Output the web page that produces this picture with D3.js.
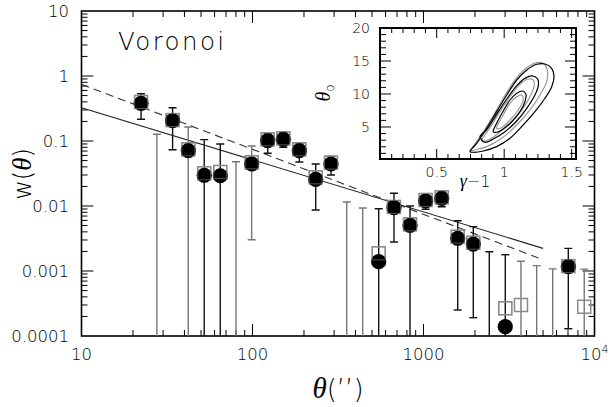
<!DOCTYPE html>
<html><head><meta charset="utf-8">
<script src="https://cdn.jsdelivr.net/npm/d3@7"></script>
<style>body{margin:0;background:#fff} svg{display:block} text{font-family:"DejaVu Sans",sans-serif;font-weight:200;fill:#000} tspan.it{font-family:"Liberation Serif",serif;font-style:italic;font-weight:400}</style>
</head><body><svg id="c" width="610" height="407"></svg>
<script>
// ---- data ----
const theta   = [22.3,27.6,34.1,42.1,52.2,64.8,80.1,98.9,122.7,151.4,187.8,234.2,287.7,355.6,441,547,672,834,1030,1278,1585,1955,2425,3008,3716,4592,5697,7028,8710];
const wCircle = [0.380,null,0.205,0.0710,0.0297,0.0292,null,0.0443,0.101,0.106,0.0710,0.0257,0.0443,null,null,0.00139,0.00942,0.00505,0.01194,0.01313,0.00319,0.00260,null,0.000139,null,null,null,0.001164,null];
const wSquare = [0.398,null,0.210,0.0745,0.0319,0.0334,null,0.047,0.106,0.110,0.0745,0.0276,0.0464,null,null,0.00187,0.00966,0.00523,0.01237,0.0136,0.00337,0.00272,null,0.000267,0.0003,null,null,0.00119,0.000282];
const errHi   = [0.534,0.127,0.325,0.164,0.105,0.090,0.048,0.0838,0.13,0.135,0.09,0.0443,0.058,0.01153,0.0093,0.00909,0.01568,0.0100,0.0155,0.0165,0.00594,0.00481,0.00198,0.00178,0.00141,0.00121,0.00108,0.00223,0.00107];
const errLo   = [0.216,null,0.0735,null,null,null,null,0.00303,0.0647,0.080,0.0475,0.00868,0.030,null,null,null,0.00279,null,0.0089,0.00976,0.000251,0.000191,null,null,null,null,null,0.000129,null];
const errSet  = ["c","s","c","s","c","c","s","s","c","c","c","c","c","s","s","c","c","c","c","c","c","c","c","c","s","s","s","c","s"];
const fitSolid  = [{t:10,w:0.325},{t:5000,w:0.00223}];
const fitDashed = [{t:10,w:0.745},{t:5000,w:0.00149}];
const xTickLabels = ["10","100","1000","10^4"];
const yTickLabels = ["10","1","0.1","0.01","0.001","0.0001"];
const panelLabel = "Voronoi";
// inset contours (gamma-1, theta0)
const cOuterBlack = [[0.747,1.26],[0.796,2.53],[0.870,4.80],[0.944,7.32],[1.019,9.85],[1.093,12.12],[1.167,13.64],[1.241,14.50],[1.302,14.55],[1.352,13.89],[1.369,12.62],[1.352,11.11],[1.302,9.35],[1.228,7.32],[1.141,5.30],[1.043,3.29],[0.944,2.02],[0.845,1.36],[0.771,1.17]];
const cOuterGray  = [[0.747,1.36],[0.796,2.77],[0.870,5.05],[0.944,7.58],[1.019,10.25],[1.093,12.47],[1.167,13.99],[1.241,14.75],[1.290,14.65],[1.319,13.64],[1.315,11.87],[1.265,9.85],[1.191,7.58],[1.093,5.30],[0.981,3.29],[0.870,2.02],[0.784,1.52]];
const cMidBlack   = [[0.821,3.54],[0.870,4.55],[0.944,6.92],[1.019,9.24],[1.093,11.26],[1.154,12.37],[1.211,12.73],[1.248,12.27],[1.253,11.26],[1.228,9.85],[1.167,7.83],[1.093,5.91],[1.006,4.29],[0.919,3.18],[0.858,2.68]];
const cMidGray    = [[0.833,2.88],[0.895,4.89],[0.969,7.32],[1.043,9.59],[1.117,11.47],[1.179,12.27],[1.216,12.12],[1.221,11.11],[1.191,9.59],[1.130,7.58],[1.043,5.56],[0.956,4.05],[0.882,3.03]];
const cInBlack    = [[0.919,4.29],[0.944,5.56],[0.993,7.42],[1.043,9.09],[1.093,10.10],[1.137,10.45],[1.161,9.95],[1.154,8.83],[1.117,7.32],[1.056,5.80],[0.993,4.70],[0.944,4.20]];
const cInGray     = [[0.944,4.80],[0.993,6.82],[1.043,8.59],[1.093,9.59],[1.130,9.85],[1.141,9.09],[1.104,7.58],[1.043,6.06],[0.981,4.89]];
const insetXTicks = [0.5,1,1.5];
const insetYTicks = [5,10,15,20];

// ---- layout ----
const svg = d3.select("#c");
const L=81.5, R=594.5, T=11, B=336;
const x = d3.scaleLog().domain([10,1e4]).range([L,R]);
const y = d3.scaleLog().domain([1e-4,10]).range([B,T]);

svg.append("defs").append("clipPath").attr("id","clip")
  .append("rect").attr("x",L).attr("y",T).attr("width",R-L).attr("height",B-T);

// ticks (all four sides, inward)
const isMajor = v => Math.abs(Math.log10(v)-Math.round(Math.log10(v)))<1e-6;
const tg = svg.append("g").attr("stroke","#000").attr("stroke-width",1);
x.ticks().forEach(v=>{
  if(v<=10||v>=1e4) return;
  const len = isMajor(v)?12:6, px=x(v);
  tg.append("line").attr("x1",px).attr("x2",px).attr("y1",B).attr("y2",B-len);
  tg.append("line").attr("x1",px).attr("x2",px).attr("y1",T).attr("y2",T+len);
});
y.ticks().forEach(v=>{
  if(v<=1e-4||v>=10) return;
  const len = isMajor(v)?12:6, py=y(v);
  tg.append("line").attr("x1",L).attr("x2",L+len).attr("y1",py).attr("y2",py);
  tg.append("line").attr("x1",R).attr("x2",R-len).attr("y1",py).attr("y2",py);
});

// frame
svg.append("rect").attr("x",L).attr("y",T).attr("width",R-L).attr("height",B-T)
  .attr("fill","none").attr("stroke","#000").attr("stroke-width",1.6);

// tick labels
const xMajor=[10,100,1000,1e4];
xMajor.forEach((v,i)=>{
  const lab = xTickLabels[i];
  const t = svg.append("text").attr("x",x(v)).attr("y",360).attr("text-anchor","middle").attr("font-size",16.5);
  if(lab.includes("^")){
    const [b,e]=lab.split("^");
    t.append("tspan").text(b);
    t.append("tspan").attr("dy",-7).attr("font-size",11).text(e);
  } else t.text(lab);
});
const yMajor=[10,1,0.1,0.01,0.001,1e-4];
yMajor.forEach((v,i)=>{
  svg.append("text").attr("x",69).attr("y",y(v)).attr("dy","0.36em").attr("text-anchor","end")
    .attr("font-size",16.5).text(yTickLabels[i]);
});

// axis titles
const xt = svg.append("text").attr("x",338).attr("y",398).attr("text-anchor","middle").attr("font-size",26);
xt.append("tspan").attr("class","it").attr("font-size",29).text("θ");
xt.append("tspan").text("(’’)");
const yt = svg.append("text").attr("transform","translate(31,174) rotate(-90)").attr("text-anchor","middle").attr("font-size",24);
yt.append("tspan").text("w(");
yt.append("tspan").attr("class","it").attr("font-size",27).text("θ");
yt.append("tspan").text(")");

// panel label
svg.append("text").attr("x",118).attr("y",50).attr("font-size",24.5).attr("letter-spacing",2.4).text(panelLabel);

// plot content
const pg = svg.append("g").attr("clip-path","url(#clip)");
const line = d3.line().x(d=>x(d.t)).y(d=>y(d.w));
pg.append("path").datum(fitSolid).attr("d",line).attr("fill","none").attr("stroke","#222").attr("stroke-width",1.1);
pg.append("path").datum(fitDashed).attr("d",line).attr("fill","none").attr("stroke","#333").attr("stroke-width",1.1).attr("stroke-dasharray","8,5");

// error bars
theta.forEach((t,i)=>{
  const col = errSet[i]==="c" ? "#111" : "#777";
  const px = x(t), yTop = y(errHi[i]), yBot = errLo[i]==null ? B+5 : y(errLo[i]);
  pg.append("line").attr("x1",px).attr("x2",px).attr("y1",yTop).attr("y2",yBot).attr("stroke",col).attr("stroke-width",1.4);
  pg.append("line").attr("x1",px-4).attr("x2",px+4).attr("y1",yTop).attr("y2",yTop).attr("stroke",col).attr("stroke-width",1.4);
  if(errLo[i]!=null)
    pg.append("line").attr("x1",px-4).attr("x2",px+4).attr("y1",yBot).attr("y2",yBot).attr("stroke",col).attr("stroke-width",1.4);
});
// squares (open, grey)
theta.forEach((t,i)=>{
  if(wSquare[i]==null) return;
  pg.append("rect").attr("x",x(t)-6.5).attr("y",y(wSquare[i])-6.5).attr("width",13).attr("height",13)
    .attr("fill","none").attr("stroke","#8a8a8a").attr("stroke-width",1.5);
});
// circles (filled black)
theta.forEach((t,i)=>{
  if(wCircle[i]==null) return;
  pg.append("circle").attr("cx",x(t)).attr("cy",y(wCircle[i])).attr("r",7.6).attr("fill","#000");
});
// square outline over the circles
theta.forEach((t,i)=>{
  if(wSquare[i]==null || wCircle[i]==null) return;
  pg.append("rect").attr("x",x(t)-6.5).attr("y",y(wSquare[i])-6.5).attr("width",13).attr("height",13)
    .attr("fill","none").attr("stroke","#8a8a8a").attr("stroke-width",1.1).attr("opacity",0.55);
});

// ---- inset ----
const iL=380, iR=576, iT=28, iB=159;
const ix = d3.scaleLinear().domain([0.08,1.532]).range([iL,iR]);
const iy = d3.scaleLinear().domain([0.15,20]).range([iB,iT]);
svg.append("rect").attr("x",iL).attr("y",iT).attr("width",iR-iL).attr("height",iB-iT).attr("fill","#fff");
const ig = svg.append("g").attr("stroke","#000").attr("stroke-width",1);
d3.range(-5,13).map(k=>0.5+k*0.5/6).filter(v=>v>0.09&&v<1.53).forEach(v=>{
  const maj = insetXTicks.some(m=>Math.abs(m-v)<1e-6);
  const len = maj?10:5, px=ix(v);
  ig.append("line").attr("x1",px).attr("x2",px).attr("y1",iB).attr("y2",iB-len);
  ig.append("line").attr("x1",px).attr("x2",px).attr("y1",iT).attr("y2",iT+len);
});
d3.range(1,20).forEach(v=>{
  const maj = insetYTicks.includes(v);
  const len = maj?11:6, py=iy(v);
  ig.append("line").attr("x1",iL).attr("x2",iL+len).attr("y1",py).attr("y2",py);
  ig.append("line").attr("x1",iR).attr("x2",iR-len).attr("y1",py).attr("y2",py);
});
const cl = d3.line().x(d=>ix(d[0])).y(d=>iy(d[1])).curve(d3.curveCatmullRomClosed.alpha(0.5));
[[cOuterGray,"#999"],[cMidGray,"#999"],[cInGray,"#999"],[cOuterBlack,"#000"],[cMidBlack,"#000"],[cInBlack,"#000"]].forEach(([c,col])=>{
  svg.append("path").datum(c).attr("d",cl).attr("fill","none").attr("stroke",col).attr("stroke-width",1.2);
});
svg.append("rect").attr("x",iL).attr("y",iT).attr("width",iR-iL).attr("height",iB-iT)
  .attr("fill","none").attr("stroke","#000").attr("stroke-width",2);
insetXTicks.forEach(v=>{
  svg.append("text").attr("x",ix(v)).attr("y",177).attr("text-anchor","middle").attr("font-size",14).text(String(v));
});
insetYTicks.forEach(v=>{
  svg.append("text").attr("x",370).attr("y",iy(v)).attr("dy","0.36em").attr("text-anchor","end").attr("font-size",14).text(String(v));
});
const gt = svg.append("text").attr("x",475).attr("y",187).attr("text-anchor","middle").attr("font-size",16);
gt.append("tspan").attr("class","it").attr("font-size",18).text("γ");
gt.append("tspan").text("−1");
const tt = svg.append("text").attr("transform","translate(330,93) rotate(-90)").attr("text-anchor","middle").attr("font-size",18);
tt.append("tspan").attr("class","it").attr("font-size",20).text("θ");
tt.append("tspan").attr("font-size",12).attr("dy",4).text("o");
</script></body></html>
